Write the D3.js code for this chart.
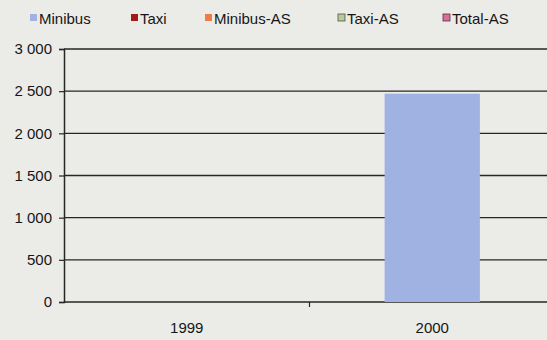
<!DOCTYPE html>
<html>
<head>
<meta charset="utf-8">
<script src="https://cdn.jsdelivr.net/npm/d3@7"></script>
<style>
  html, body { margin: 0; padding: 0; background: #ebebe8; }
  svg { display: block; font-family: "Liberation Sans", Arial, sans-serif; }
</style>
</head>
<body>
<svg id="chart" width="547" height="340"></svg>
<script>
// Vehicle counts by year
const years = ["1999", "2000"];
const seriesNames = ["Minibus", "Taxi", "Minibus-AS", "Taxi-AS", "Total-AS"];
const minibus = [0, 2470];
const taxi = [0, 0];
const minibusAS = [0, 0];
const taxiAS = [0, 0];
const totalAS = [0, 0];
const yTicks = [0, 500, 1000, 1500, 2000, 2500, 3000];

const seriesColors = ["#9fb2e2", "#a3191c", "#ef7a4a", "#b9c8a0", "#d8709a"];
const seriesStroke = [null, null, null, "#4a5a3a", "#5a3048"];
const seriesValues = [minibus, taxi, minibusAS, taxiAS, totalAS];

const svg = d3.select("#chart");
const margin = { left: 64, right: -8, top: 49, bottom: 38 };
const W = 547, H = 340;
const ink = "#161616";

const x = d3.scaleBand()
  .domain(years)
  .range([margin.left, W - margin.right])
  .paddingInner(0.612)
  .paddingOuter(0.306);

const y = d3.scaleLinear()
  .domain([0, 3000])
  .range([H - margin.bottom, margin.top]);

// Horizontal gridlines
svg.append("g")
  .selectAll("line")
  .data(yTicks)
  .join("line")
  .attr("x1", margin.left)
  .attr("x2", W)
  .attr("y1", d => y(d))
  .attr("y2", d => y(d))
  .attr("stroke", "#262626")
  .attr("stroke-width", 1.4);

// Bars (only the first series carries values)
const bars = svg.append("g");
seriesValues.forEach((vals, i) => {
  bars.selectAll(null)
    .data(years.map((yr, j) => ({ yr, v: vals[j] })).filter(d => d.v > 0))
    .join("rect")
    .attr("x", d => x(d.yr))
    .attr("width", x.bandwidth())
    .attr("y", d => y(d.v))
    .attr("height", d => y(0) - y(d.v))
    .attr("fill", seriesColors[i]);
});

// Y axis
const yAxis = d3.axisLeft(y)
  .tickValues(yTicks)
  .tickSize(5)
  .tickPadding(6)
  .tickFormat(d => d3.format(",")(d).replace(/,/g, " "));
const gy = svg.append("g")
  .attr("transform", `translate(${margin.left},0)`)
  .call(yAxis);
gy.select(".domain").attr("stroke", "#262626").attr("stroke-width", 1.5);
gy.selectAll(".tick line").attr("stroke", "#262626").attr("stroke-width", 1.2);
gy.selectAll(".tick text")
  .attr("fill", ink)
  .style("font-size", "15px")
  .attr("dx", "-1");

// X axis: ticks at category boundaries, labels at centers
const xBase = y(0);
const boundary = x.step() + margin.left;
svg.append("line")
  .attr("x1", boundary).attr("x2", boundary)
  .attr("y1", xBase).attr("y2", xBase + 5)
  .attr("stroke", "#262626")
  .attr("stroke-width", 1.2);
svg.append("g")
  .selectAll("text")
  .data(years)
  .join("text")
  .attr("x", d => x(d) + x.bandwidth() / 2)
  .attr("y", xBase + 31)
  .attr("text-anchor", "middle")
  .attr("fill", ink)
  .style("font-size", "15px")
  .text(d => d);

// Legend
const legendX = [30, 131, 205, 338, 443];
const legend = svg.append("g");
seriesNames.forEach((name, i) => {
  const g = legend.append("g").attr("transform", `translate(${legendX[i]},14)`);
  g.append("rect")
    .attr("width", 7).attr("height", 7)
    .attr("fill", seriesColors[i])
    .attr("stroke", seriesStroke[i] || "none")
    .attr("stroke-width", 0.8);
  g.append("text")
    .attr("x", 9)
    .attr("y", 9.5)
    .attr("fill", ink)
    .style("font-size", "15px")
    .text(name);
});
</script>
</body>
</html>
